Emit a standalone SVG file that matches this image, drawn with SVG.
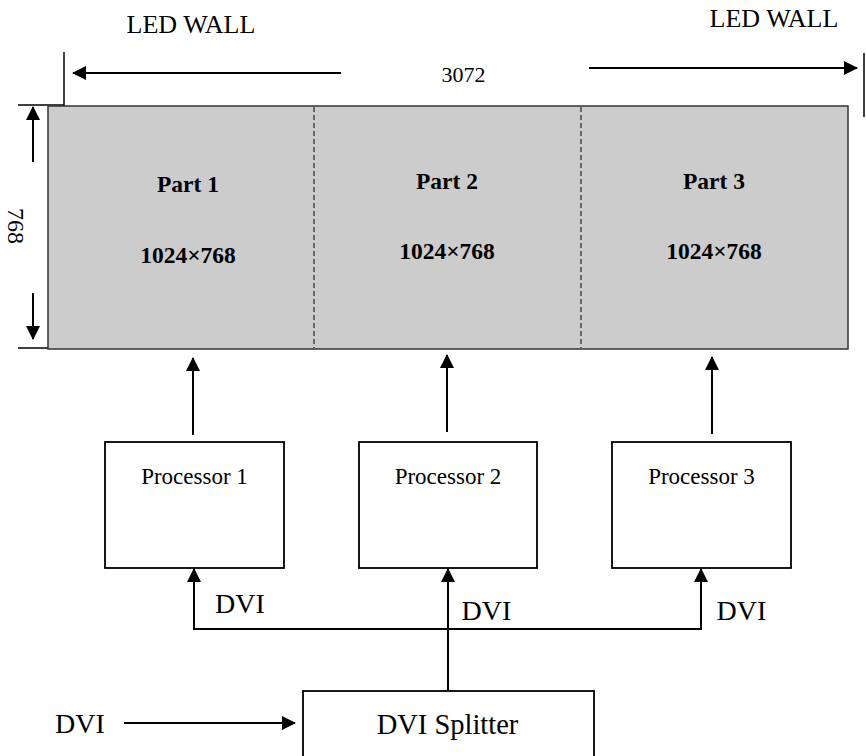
<svg xmlns="http://www.w3.org/2000/svg" width="866" height="756" viewBox="0 0 866 756">
<defs>
<style>
.t{font-family:"Liberation Serif","Times New Roman",serif;fill:#000}
.b{font-weight:bold;font-size:23.5px}
.ln{stroke:#000;stroke-width:2;fill:none}
.thin{stroke:#000;stroke-width:1.5;fill:none}
.box{fill:#fff;stroke:#000;stroke-width:1.8}
</style>
<marker id="ah" viewBox="0 0 14 14" refX="13" refY="7" markerWidth="14" markerHeight="14" markerUnits="userSpaceOnUse" orient="auto">
<path d="M0,0 L14,7 L0,14 Z" fill="#000"/>
</marker>
</defs>
<rect width="866" height="756" fill="#fff"/>

<g id="labels-top">
<text class="t" x="191" y="33" font-size="26" text-anchor="middle">LED WALL</text>
<text class="t" x="774" y="27" font-size="26" text-anchor="middle">LED WALL</text>
<text class="t" x="463.5" y="82" font-size="22" text-anchor="middle">3072</text>
<text class="t" font-size="24" text-anchor="middle" transform="translate(8,226) rotate(90)">768</text>
</g>

<g id="dimensions">
<line class="thin" x1="64" y1="52" x2="64" y2="116"/>
<line class="thin" x1="864" y1="53" x2="864" y2="117"/>
<line class="thin" x1="18" y1="105" x2="64" y2="105"/>
<line class="thin" x1="18" y1="348" x2="64" y2="348"/>
<line class="ln" x1="341" y1="73" x2="73" y2="73" marker-end="url(#ah)"/>
<line class="ln" x1="589" y1="68" x2="857" y2="68" marker-end="url(#ah)"/>
<line class="ln" x1="33" y1="162" x2="33" y2="107" marker-end="url(#ah)"/>
<line class="ln" x1="33" y1="293" x2="33" y2="339" marker-end="url(#ah)"/>
</g>

<g id="wall">
<rect x="48" y="106" width="800" height="243" fill="#cccccc" stroke="#333" stroke-width="1.5"/>
<line x1="314" y1="107" x2="314" y2="348" stroke="#222" stroke-width="1.2" stroke-dasharray="5,3"/>
<line x1="581" y1="107" x2="581" y2="348" stroke="#222" stroke-width="1.2" stroke-dasharray="5,3"/>
<text class="t b" x="188" y="192" text-anchor="middle">Part 1</text>
<text class="t b" x="188" y="263" text-anchor="middle">1024×768</text>
<text class="t b" x="447" y="189" text-anchor="middle">Part 2</text>
<text class="t b" x="447" y="259" text-anchor="middle">1024×768</text>
<text class="t b" x="714" y="189" text-anchor="middle">Part 3</text>
<text class="t b" x="714" y="259" text-anchor="middle">1024×768</text>
</g>

<g id="processor1">
<rect class="box" x="105" y="442" width="179" height="126"/>
<text class="t" x="194.5" y="484" font-size="23" text-anchor="middle">Processor 1</text>
</g>
<g id="processor2">
<rect class="box" x="359" y="442" width="178" height="126"/>
<text class="t" x="448" y="484" font-size="23" text-anchor="middle">Processor 2</text>
</g>
<g id="processor3">
<rect class="box" x="612" y="442" width="179" height="126"/>
<text class="t" x="701.5" y="484" font-size="23" text-anchor="middle">Processor 3</text>
</g>

<g id="splitter">
<rect class="box" x="303" y="691" width="291" height="90"/>
<text class="t" x="447.5" y="734" font-size="28.5" text-anchor="middle">DVI Splitter</text>
</g>

<g id="connectors">
<line class="ln" x1="193" y1="435" x2="193" y2="358" marker-end="url(#ah)"/>
<line class="ln" x1="447" y1="432" x2="447" y2="355" marker-end="url(#ah)"/>
<line class="ln" x1="712" y1="434" x2="712" y2="357" marker-end="url(#ah)"/>
<polyline class="ln" points="194,569 194,629 701,629 701,569" />
<line class="ln" x1="194" y1="629" x2="194" y2="569" marker-end="url(#ah)"/>
<line class="ln" x1="701" y1="629" x2="701" y2="569" marker-end="url(#ah)"/>
<line class="ln" x1="448" y1="691" x2="448" y2="569" marker-end="url(#ah)"/>
<line class="ln" x1="124" y1="723" x2="295" y2="723" marker-end="url(#ah)"/>
</g>

<g id="dvi-labels">
<text class="t" x="240" y="613" font-size="28" text-anchor="middle">DVI</text>
<text class="t" x="486.5" y="620" font-size="28" text-anchor="middle">DVI</text>
<text class="t" x="741.5" y="620" font-size="28" text-anchor="middle">DVI</text>
<text class="t" x="80" y="733" font-size="28" text-anchor="middle">DVI</text>
</g>
</svg>
